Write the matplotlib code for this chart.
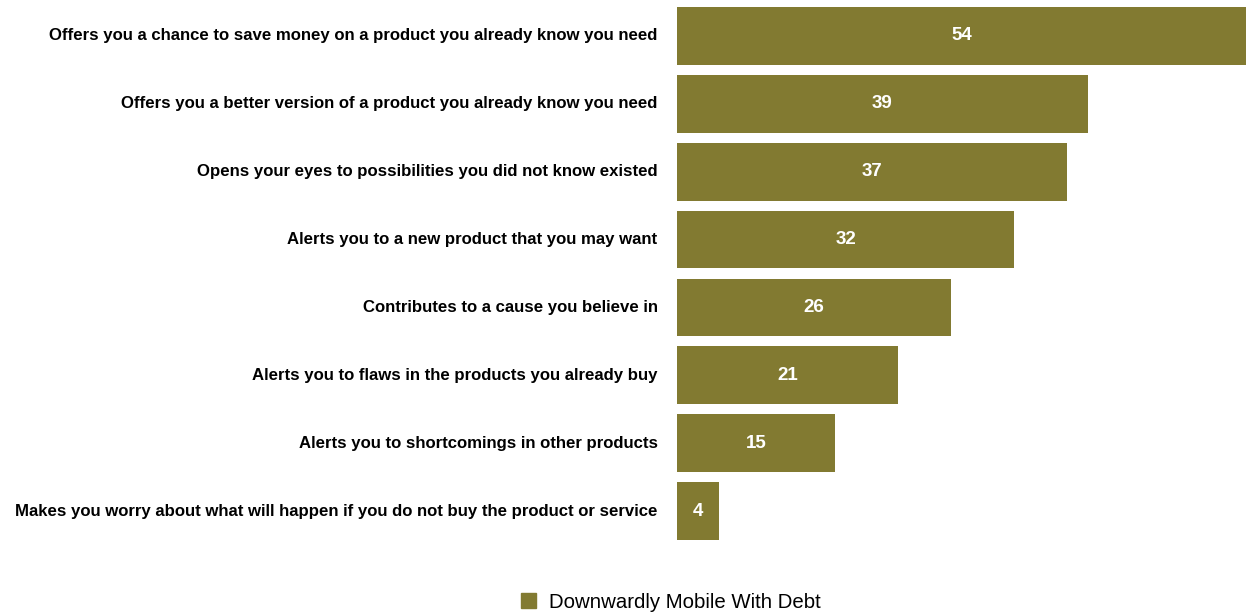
import matplotlib.pyplot as plt
from matplotlib.patches import Patch

plt.rcParams['font.family'] = ['Liberation Sans', 'DejaVu Sans']

categories = [
    'Offers you a chance to save money on a product you already know you need',
    'Offers you a better version of a product you already know you need',
    'Opens your eyes to possibilities you did not know existed',
    'Alerts you to a new product that you may want',
    'Contributes to a cause you believe in',
    'Alerts you to flaws in the products you already buy',
    'Alerts you to shortcomings in other products',
    'Makes you worry about what will happen if you do not buy the product or service',
]
values = [54, 39, 37, 32, 26, 21, 15, 4]
series_name = 'Downwardly Mobile With Debt'
color = '#827A31'


def main():
    fig = plt.figure(figsize=(12.46, 6.14), dpi=100)
    ax = fig.add_axes([677 / 1246, 1 - 545 / 614, 569 / 1246, 543 / 614])

    y = list(range(len(categories)))
    bars = ax.barh(y, values, height=0.85, color=color)
    for b, v in zip(bars, values):
        ax.text(b.get_width() / 2, b.get_y() + b.get_height() / 2, str(v),
                ha='center', va='center', color='white', fontsize=13.5, fontweight='bold')

    ax.set_xlim(0, 54)
    ax.set_ylim(len(categories) - 0.5, -0.5)
    ax.set_yticks(y)
    ax.set_yticklabels(categories, fontsize=12.1, fontweight='bold', va='center')
    ax.tick_params(axis='y', length=0, pad=14)
    ax.set_xticks([])
    for s in ax.spines.values():
        s.set_visible(False)

    fig.legend(handles=[Patch(color=color, label=series_name)], loc='center',
               bbox_to_anchor=(671 / 1246, 1 - 602 / 614), frameon=False,
               fontsize=14.7, handlelength=0.75, handleheight=0.75, handletextpad=0.65)

    fig.savefig('out.png', dpi=100)


if __name__ == '__main__':
    main()
